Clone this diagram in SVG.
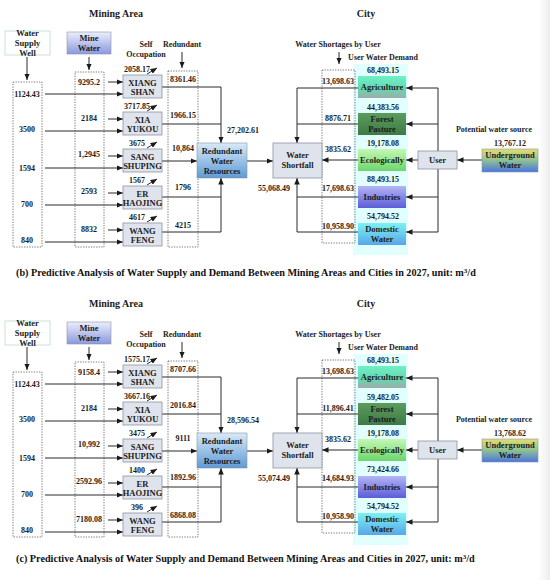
<svg xmlns="http://www.w3.org/2000/svg" width="550" height="580" viewBox="0 0 550 580">
<defs>
<style>
text{font-family:"Liberation Serif",serif;font-weight:bold;font-size:8px;fill:#1c1c1c;text-anchor:middle}
.title{font-size:10px}
.cap{font-size:10.2px;text-anchor:start;fill:#111}
.lbl{font-size:8.5px}
.ln{stroke:#2a2a2a;stroke-width:1;fill:none}
.arr{marker-end:url(#ah)}
.dash{fill:none;stroke:#555;stroke-width:0.8;stroke-dasharray:1.3,1.3}
.node{fill:#dfe4ec;stroke:#8a94a4;stroke-width:0.8}
.bx{stroke:#8a94a4;stroke-width:0.6}
</style>
<marker id="ah" markerWidth="6.5" markerHeight="5.5" refX="6.5" refY="2.75" orient="auto" markerUnits="userSpaceOnUse"><path d="M0,0 L6.5,2.75 L0,5.5 z" fill="#1a1a1a"/></marker>
<linearGradient id="gMine" x1="0" y1="0" x2="0" y2="1"><stop offset="0" stop-color="#eceefb"/><stop offset="1" stop-color="#8c98de"/></linearGradient>
<linearGradient id="gRWR" x1="0" y1="0" x2="0" y2="1"><stop offset="0" stop-color="#d8eaf9"/><stop offset="1" stop-color="#5f9ad4"/></linearGradient>
<linearGradient id="gAgri" x1="0" y1="0" x2="0" y2="1"><stop offset="0" stop-color="#70f0c4"/><stop offset="0.6" stop-color="#62d8b2"/><stop offset="1" stop-color="#a2aaa8"/></linearGradient>
<linearGradient id="gFor" x1="0" y1="0" x2="0" y2="1"><stop offset="0" stop-color="#5c9c5c"/><stop offset="1" stop-color="#3e7a46"/></linearGradient>
<linearGradient id="gEco" x1="0" y1="0" x2="0" y2="1"><stop offset="0" stop-color="#c4f8b4"/><stop offset="1" stop-color="#6cd66c"/></linearGradient>
<linearGradient id="gInd" x1="0" y1="0" x2="0" y2="1"><stop offset="0" stop-color="#b4b4f4"/><stop offset="1" stop-color="#5c5cd8"/></linearGradient>
<linearGradient id="gDom" x1="0" y1="0" x2="0" y2="1"><stop offset="0" stop-color="#7cf2f2"/><stop offset="1" stop-color="#58a6e8"/></linearGradient>
<linearGradient id="gUG" x1="0" y1="0" x2="0" y2="1"><stop offset="0" stop-color="#e8dc6c"/><stop offset="0.5" stop-color="#8cc094"/><stop offset="1" stop-color="#4c74e0"/></linearGradient>
<linearGradient id="gEdge" x1="0" y1="0" x2="1" y2="0"><stop offset="0" stop-color="#ffffff"/><stop offset="1" stop-color="#ececec"/></linearGradient>
</defs>
<rect width="550" height="580" fill="#fff"/>
<rect x="538" y="0" width="12" height="580" fill="url(#gEdge)"/>

<!-- ================= PANEL B ================= -->
<g id="panel-b">
<text class="title" x="116" y="17">Mining Area</text>
<text class="title" x="366" y="17">City</text>
<text x="146" y="47">Self</text><text x="146" y="57">Occupation</text>
<text x="182" y="47">Redundant</text>
<text x="338" y="47">Water Shortages by User</text>
<text x="383" y="60">User Water Demand</text>
<text x="494" y="132">Potential water source</text>
<text x="510" y="146">13,767.12</text>
<text class="cap" x="16" y="276">(b) Predictive Analysis of Water Supply and Demand Between Mining Areas and Cities in 2027, unit: m<tspan dy="-3.5" font-size="7">3</tspan><tspan dy="3.5">/d</tspan></text>

<rect x="353" y="64" width="55" height="191" fill="#e2ffff"/>
<rect class="dash" x="13" y="82" width="29" height="165"/>
<rect class="dash" x="75" y="72" width="29" height="175"/>
<rect class="dash" x="168" y="71" width="30" height="176"/>
<rect class="dash" x="322" y="70" width="33" height="173"/>

<g id="b-connectors">
<line class="ln arr" x1="27" y1="57" x2="27" y2="80"/>
<line class="ln arr" x1="89" y1="57" x2="89" y2="70"/>
<line class="ln arr" x1="182" y1="52" x2="182" y2="68"/>
<line class="ln arr" x1="339" y1="52" x2="339" y2="64"/>
<line class="ln arr" x1="45" y1="94" x2="123" y2="94"/>
<line class="ln arr" x1="45" y1="131" x2="123" y2="131"/>
<line class="ln arr" x1="45" y1="168" x2="123" y2="168"/>
<line class="ln arr" x1="45" y1="205" x2="123" y2="205"/>
<line class="ln arr" x1="45" y1="242" x2="123" y2="242"/>
<line class="ln arr" x1="108" y1="82" x2="123" y2="82"/>
<line class="ln arr" x1="108" y1="119" x2="123" y2="119"/>
<line class="ln arr" x1="108" y1="156" x2="123" y2="156"/>
<line class="ln arr" x1="108" y1="193" x2="123" y2="193"/>
<line class="ln arr" x1="108" y1="230" x2="123" y2="230"/>
<line class="ln arr" x1="147" y1="74" x2="157" y2="68"/>
<line class="ln arr" x1="147" y1="111" x2="157" y2="105"/>
<line class="ln arr" x1="147" y1="148" x2="157" y2="142"/>
<line class="ln arr" x1="147" y1="185" x2="157" y2="179"/>
<line class="ln arr" x1="147" y1="222" x2="157" y2="216"/>
<polyline class="ln arr" points="162,87 221,87 221,143"/>
<line class="ln" x1="162" y1="124" x2="221" y2="124"/>
<line class="ln arr" x1="162" y1="161" x2="197" y2="161"/>
<line class="ln" x1="162" y1="197" x2="221" y2="197"/>
<polyline class="ln arr" points="162,232 221,232 221,178"/>
<line class="ln arr" x1="247" y1="161" x2="273" y2="161"/>
<polyline class="ln arr" points="358,88 297,88 297,143"/>
<line class="ln" x1="358" y1="124" x2="297" y2="124"/>
<line class="ln arr" x1="358" y1="160" x2="322" y2="160"/>
<line class="ln" x1="358" y1="197" x2="297" y2="197"/>
<polyline class="ln arr" points="358,232 297,232 297,178"/>
<line class="ln" x1="438" y1="88" x2="438" y2="232"/>
<line class="ln arr" x1="438" y1="88" x2="406" y2="88"/>
<line class="ln arr" x1="438" y1="124" x2="406" y2="124"/>
<line class="ln arr" x1="418" y1="160" x2="406" y2="160"/>
<line class="ln arr" x1="438" y1="197" x2="406" y2="197"/>
<line class="ln arr" x1="438" y1="232" x2="406" y2="232"/>
<line class="ln arr" x1="482" y1="160" x2="457" y2="160"/>
</g>

<g id="b-values">
<text x="27" y="97">1124.43</text><text x="27" y="132">3500</text><text x="27" y="171">1594</text><text x="27" y="207">700</text><text x="27" y="243">840</text>
<text x="89" y="85">9295.2</text><text x="89" y="121">2184</text><text x="89" y="157">1,2945</text><text x="89" y="194">2593</text><text x="89" y="232">8832</text>
<text x="137" y="72">2058.17</text><text x="137" y="109">3717.85</text><text x="137" y="146">3675</text><text x="137" y="183">1567</text><text x="137" y="220">4617</text>
<text x="183" y="82">8361.46</text><text x="183" y="118">1966.15</text><text x="183" y="151">10,864</text><text x="183" y="190">1796</text><text x="183" y="228">4215</text>
<text x="243" y="133">27,202.61</text>
<text x="274" y="191">55,068.49</text>
<text x="383" y="73">68,493.15</text><text x="383" y="110">44,383.56</text><text x="383" y="146">19,178.08</text><text x="383" y="182">88,493.15</text><text x="383" y="219">54,794.52</text>
<text x="338" y="84">13,698.63</text><text x="338" y="121">8876.71</text><text x="338" y="152">3835.62</text><text x="338" y="191">17,698.63</text><text x="338" y="229">10,958.90</text>
</g>

<g id="b-well"><rect x="5" y="31" width="45" height="24" fill="#fff" stroke="#b8dcc8" stroke-width="0.8"/><text class="lbl" x="27.5" y="36">Water</text><text class="lbl" x="27.5" y="46">Supply</text><text class="lbl" x="27.5" y="55.5">Well</text></g>
<g id="b-mine"><rect class="bx" x="67" y="32" width="44" height="22" fill="url(#gMine)"/><text class="lbl" x="89" y="41">Mine</text><text class="lbl" x="89" y="51">Water</text></g>
<g id="b-xiangshan"><rect class="node" x="123" y="75" width="39" height="23"/><text class="lbl" x="142.5" y="86">XIANG</text><text class="lbl" x="142.5" y="95">SHAN</text></g>
<g id="b-xiayukou"><rect class="node" x="123" y="112" width="39" height="23"/><text class="lbl" x="142.5" y="123">XIA</text><text class="lbl" x="142.5" y="132">YUKOU</text></g>
<g id="b-sangshuping"><rect class="node" x="123" y="149" width="39" height="23"/><text class="lbl" x="142.5" y="160">SANG</text><text class="lbl" x="142.5" y="169">SHUPING</text></g>
<g id="b-erhaojing"><rect class="node" x="123" y="186" width="39" height="23"/><text class="lbl" x="142.5" y="197">ER</text><text class="lbl" x="142.5" y="206">HAOJING</text></g>
<g id="b-wangfeng"><rect class="node" x="123" y="223" width="39" height="23"/><text class="lbl" x="142.5" y="234">WANG</text><text class="lbl" x="142.5" y="243">FENG</text></g>
<g id="b-rwr"><rect class="bx" x="197" y="143" width="50" height="35" fill="url(#gRWR)"/><text class="lbl" x="222" y="154" fill="#14204a">Redundant</text><text class="lbl" x="222" y="164" fill="#14204a">Water</text><text class="lbl" x="222" y="174" fill="#14204a">Resources</text></g>
<g id="b-shortfall"><rect class="node" x="273" y="143" width="49" height="35"/><text class="lbl" x="297.5" y="158">Water</text><text class="lbl" x="297.5" y="168">Shortfall</text></g>
<g id="b-agriculture"><rect x="358" y="76" width="48" height="22" fill="url(#gAgri)"/><text class="lbl" x="382" y="90" fill="#0b5a3a">Agriculture</text></g>
<g id="b-forest"><rect x="358" y="113" width="48" height="22" fill="url(#gFor)"/><text class="lbl" x="382" y="122" fill="#eef0d4">Forest</text><text class="lbl" x="382" y="131.5" fill="#eef0d4">Pasture</text></g>
<g id="b-ecologically"><rect x="358" y="149" width="48" height="22" fill="url(#gEco)"/><text class="lbl" x="382" y="163" fill="#0a5a22">Ecologically</text></g>
<g id="b-industries"><rect x="358" y="186" width="48" height="22" fill="url(#gInd)"/><text class="lbl" x="382" y="200" fill="#141e5a">Industries</text></g>
<g id="b-domestic"><rect x="358" y="223" width="48" height="22" fill="url(#gDom)"/><text class="lbl" x="382" y="232" fill="#0a6464">Domestic</text><text class="lbl" x="382" y="241.5" fill="#0a6464">Water</text></g>
<g id="b-user"><rect class="node" x="418" y="151" width="39" height="18"/><text class="lbl" x="437.5" y="163">User</text></g>
<g id="b-underground"><rect class="bx" x="482" y="149" width="56" height="23" fill="url(#gUG)"/><text class="lbl" x="510" y="158" fill="#14205a">Underground</text><text class="lbl" x="510" y="168" fill="#14205a">Water</text></g>
</g>

<!-- ================= PANEL C ================= -->
<g id="panel-c" transform="translate(0,290)">
<text class="title" x="116" y="17">Mining Area</text>
<text class="title" x="366" y="17">City</text>
<text x="146" y="47">Self</text><text x="146" y="57">Occupation</text>
<text x="182" y="47">Redundant</text>
<text x="338" y="47">Water Shortages by User</text>
<text x="383" y="60">User Water Demand</text>
<text x="494" y="132">Potential water source</text>
<text x="510" y="146">13,768.62</text>
<text class="cap" x="16" y="272">(c) Predictive Analysis of Water Supply and Demand Between Mining Areas and Cities in 2027, unit: m<tspan dy="-3.5" font-size="7">3</tspan><tspan dy="3.5">/d</tspan></text>

<rect x="353" y="64" width="55" height="191" fill="#e2ffff"/>
<rect class="dash" x="13" y="82" width="29" height="165"/>
<rect class="dash" x="75" y="72" width="29" height="175"/>
<rect class="dash" x="168" y="71" width="30" height="176"/>
<rect class="dash" x="322" y="70" width="33" height="173"/>

<g id="c-connectors">
<line class="ln arr" x1="27" y1="57" x2="27" y2="80"/>
<line class="ln arr" x1="89" y1="57" x2="89" y2="70"/>
<line class="ln arr" x1="182" y1="52" x2="182" y2="68"/>
<line class="ln arr" x1="339" y1="52" x2="339" y2="64"/>
<line class="ln arr" x1="45" y1="94" x2="123" y2="94"/>
<line class="ln arr" x1="45" y1="131" x2="123" y2="131"/>
<line class="ln arr" x1="45" y1="168" x2="123" y2="168"/>
<line class="ln arr" x1="45" y1="205" x2="123" y2="205"/>
<line class="ln arr" x1="45" y1="242" x2="123" y2="242"/>
<line class="ln arr" x1="108" y1="82" x2="123" y2="82"/>
<line class="ln arr" x1="108" y1="119" x2="123" y2="119"/>
<line class="ln arr" x1="108" y1="156" x2="123" y2="156"/>
<line class="ln arr" x1="108" y1="193" x2="123" y2="193"/>
<line class="ln arr" x1="108" y1="230" x2="123" y2="230"/>
<line class="ln arr" x1="147" y1="74" x2="157" y2="68"/>
<line class="ln arr" x1="147" y1="111" x2="157" y2="105"/>
<line class="ln arr" x1="147" y1="148" x2="157" y2="142"/>
<line class="ln arr" x1="147" y1="185" x2="157" y2="179"/>
<line class="ln arr" x1="147" y1="222" x2="157" y2="216"/>
<polyline class="ln arr" points="162,87 221,87 221,143"/>
<line class="ln" x1="162" y1="124" x2="221" y2="124"/>
<line class="ln arr" x1="162" y1="161" x2="197" y2="161"/>
<line class="ln" x1="162" y1="197" x2="221" y2="197"/>
<polyline class="ln arr" points="162,232 221,232 221,178"/>
<line class="ln arr" x1="247" y1="161" x2="273" y2="161"/>
<polyline class="ln arr" points="358,88 297,88 297,143"/>
<line class="ln" x1="358" y1="124" x2="297" y2="124"/>
<line class="ln arr" x1="358" y1="160" x2="322" y2="160"/>
<line class="ln" x1="358" y1="197" x2="297" y2="197"/>
<polyline class="ln arr" points="358,232 297,232 297,178"/>
<line class="ln" x1="438" y1="88" x2="438" y2="232"/>
<line class="ln arr" x1="438" y1="88" x2="406" y2="88"/>
<line class="ln arr" x1="438" y1="124" x2="406" y2="124"/>
<line class="ln arr" x1="418" y1="160" x2="406" y2="160"/>
<line class="ln arr" x1="438" y1="197" x2="406" y2="197"/>
<line class="ln arr" x1="438" y1="232" x2="406" y2="232"/>
<line class="ln arr" x1="482" y1="160" x2="457" y2="160"/>
</g>

<g id="c-values">
<text x="27" y="97">1124.43</text><text x="27" y="132">3500</text><text x="27" y="171">1594</text><text x="27" y="207">700</text><text x="27" y="243">840</text>
<text x="89" y="85">9158.4</text><text x="89" y="121">2184</text><text x="89" y="157">10,992</text><text x="89" y="194">2592.96</text><text x="89" y="232">7180.08</text>
<text x="137" y="72">1575.17</text><text x="137" y="109">3667.16</text><text x="137" y="146">3475</text><text x="137" y="183">1400</text><text x="137" y="220">396</text>
<text x="183" y="82">8707.66</text><text x="183" y="118">2016.84</text><text x="183" y="151">9111</text><text x="183" y="190">1892.96</text><text x="183" y="228">6868.08</text>
<text x="243" y="133">28,596.54</text>
<text x="274" y="191">55,074.49</text>
<text x="383" y="73">68,493.15</text><text x="383" y="110">59,482.05</text><text x="383" y="146">19,178.08</text><text x="383" y="182">73,424.66</text><text x="383" y="219">54,794.52</text>
<text x="338" y="84">13,698.63</text><text x="338" y="121">11,896.41</text><text x="338" y="152">3835.62</text><text x="338" y="191">14,684.93</text><text x="338" y="229">10,958.90</text>
</g>

<g id="c-well"><rect x="5" y="31" width="45" height="24" fill="#fff" stroke="#b8dcc8" stroke-width="0.8"/><text class="lbl" x="27.5" y="36">Water</text><text class="lbl" x="27.5" y="46">Supply</text><text class="lbl" x="27.5" y="55.5">Well</text></g>
<g id="c-mine"><rect class="bx" x="67" y="32" width="44" height="22" fill="url(#gMine)"/><text class="lbl" x="89" y="41">Mine</text><text class="lbl" x="89" y="51">Water</text></g>
<g id="c-xiangshan"><rect class="node" x="123" y="75" width="39" height="23"/><text class="lbl" x="142.5" y="86">XIANG</text><text class="lbl" x="142.5" y="95">SHAN</text></g>
<g id="c-xiayukou"><rect class="node" x="123" y="112" width="39" height="23"/><text class="lbl" x="142.5" y="123">XIA</text><text class="lbl" x="142.5" y="132">YUKOU</text></g>
<g id="c-sangshuping"><rect class="node" x="123" y="149" width="39" height="23"/><text class="lbl" x="142.5" y="160">SANG</text><text class="lbl" x="142.5" y="169">SHUPING</text></g>
<g id="c-erhaojing"><rect class="node" x="123" y="186" width="39" height="23"/><text class="lbl" x="142.5" y="197">ER</text><text class="lbl" x="142.5" y="206">HAOJING</text></g>
<g id="c-wangfeng"><rect class="node" x="123" y="223" width="39" height="23"/><text class="lbl" x="142.5" y="234">WANG</text><text class="lbl" x="142.5" y="243">FENG</text></g>
<g id="c-rwr"><rect class="bx" x="197" y="143" width="50" height="35" fill="url(#gRWR)"/><text class="lbl" x="222" y="154" fill="#14204a">Redundant</text><text class="lbl" x="222" y="164" fill="#14204a">Water</text><text class="lbl" x="222" y="174" fill="#14204a">Resources</text></g>
<g id="c-shortfall"><rect class="node" x="273" y="143" width="49" height="35"/><text class="lbl" x="297.5" y="158">Water</text><text class="lbl" x="297.5" y="168">Shortfall</text></g>
<g id="c-agriculture"><rect x="358" y="76" width="48" height="22" fill="url(#gAgri)"/><text class="lbl" x="382" y="90" fill="#0b5a3a">Agriculture</text></g>
<g id="c-forest"><rect x="358" y="113" width="48" height="22" fill="url(#gFor)"/><text class="lbl" x="382" y="122" fill="#eef0d4">Forest</text><text class="lbl" x="382" y="131.5" fill="#eef0d4">Pasture</text></g>
<g id="c-ecologically"><rect x="358" y="149" width="48" height="22" fill="url(#gEco)"/><text class="lbl" x="382" y="163" fill="#0a5a22">Ecologically</text></g>
<g id="c-industries"><rect x="358" y="186" width="48" height="22" fill="url(#gInd)"/><text class="lbl" x="382" y="200" fill="#141e5a">Industries</text></g>
<g id="c-domestic"><rect x="358" y="223" width="48" height="22" fill="url(#gDom)"/><text class="lbl" x="382" y="232" fill="#0a6464">Domestic</text><text class="lbl" x="382" y="241.5" fill="#0a6464">Water</text></g>
<g id="c-user"><rect class="node" x="418" y="151" width="39" height="18"/><text class="lbl" x="437.5" y="163">User</text></g>
<g id="c-underground"><rect class="bx" x="482" y="149" width="56" height="23" fill="url(#gUG)"/><text class="lbl" x="510" y="158" fill="#14205a">Underground</text><text class="lbl" x="510" y="168" fill="#14205a">Water</text></g>
</g>
</svg>
